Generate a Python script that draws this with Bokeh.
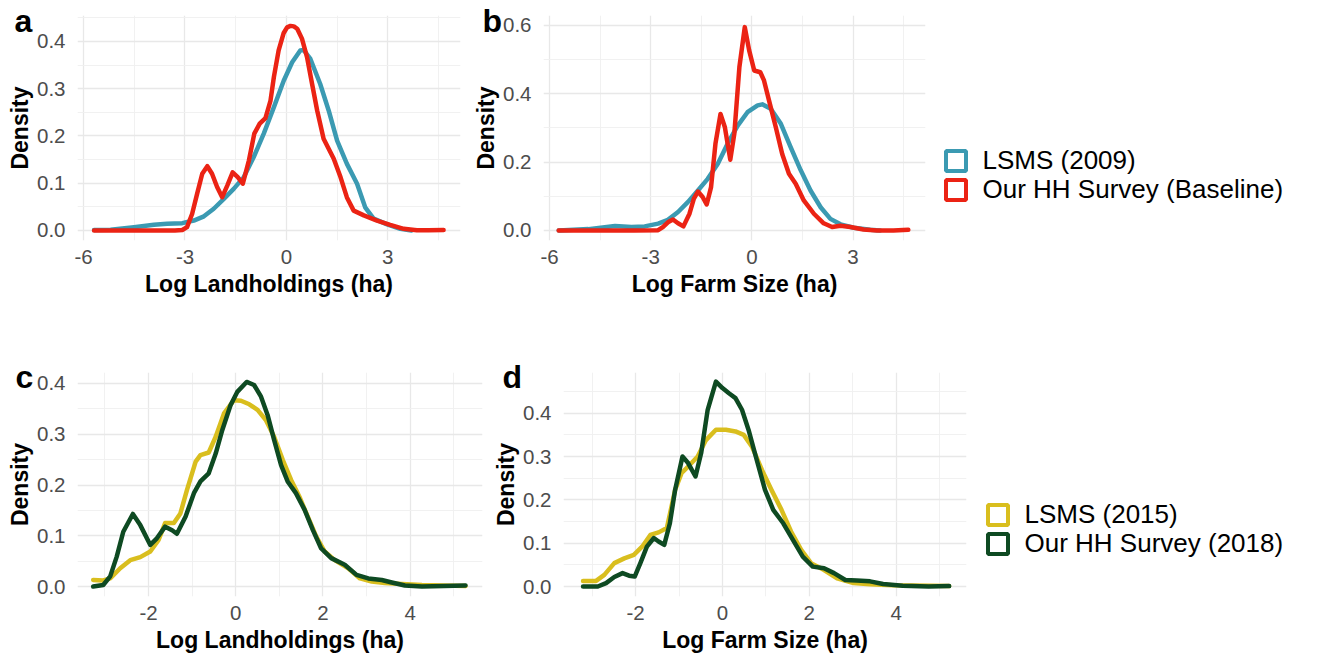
from bokeh.plotting import figure
from bokeh.models import Range1d, FixedTicker, PrintfTickFormatter, Label, Legend, LegendItem
from bokeh.layouts import row, column
from bokeh.embed import file_html
from bokeh.resources import INLINE

FONT = "Liberation Sans"
NAN = float("nan")

# ---------------- data ----------------
# Panel a: Log Landholdings, LSMS 2009 vs HH survey baseline
a_lsms_x = [-5.69, -5.2, -4.51, -3.92, -3.53, -3.08, -2.74, -2.44, -2.15, -1.85, -1.56, -1.26, -0.97,
            -0.67, -0.37, -0.08, 0.17, 0.41, 0.51, 0.71, 1.0, 1.25, 1.50, 1.79, 2.09, 2.33, 2.58,
            2.98, 3.37, 3.7]
a_lsms_y = [0.001, 0.0015, 0.007, 0.012, 0.014, 0.0155, 0.021, 0.03, 0.046, 0.067, 0.088, 0.113, 0.155,
            0.205, 0.261, 0.317, 0.356, 0.381, 0.382, 0.363, 0.31, 0.254, 0.19, 0.141, 0.099, 0.049,
            0.025, 0.013, 0.0035, 0.0]
a_hh_x = [-5.69, -5.0, -4.0, -3.3, -3.08, -2.94, -2.79, -2.64, -2.49, -2.34, -2.20, -2.05, -1.90, -1.75,
          -1.59, -1.44, -1.29, -1.11, -0.95, -0.79, -0.62, -0.47, -0.37, -0.23, -0.08, 0.02, 0.12, 0.22,
          0.32, 0.46, 0.61, 0.76, 0.91, 1.10, 1.40, 1.60, 1.79, 1.99, 2.29, 2.68, 3.07, 3.47, 3.86, 4.2,
          4.65]
a_hh_y = [0.0, 0.0, 0.0, 0.0, 0.001, 0.007, 0.035, 0.078, 0.12, 0.136, 0.12, 0.092, 0.0705, 0.095,
          0.123, 0.113, 0.099, 0.148, 0.205, 0.226, 0.238, 0.275, 0.325, 0.381, 0.418, 0.430, 0.433, 0.432,
          0.427, 0.406, 0.367, 0.31, 0.254, 0.194, 0.152, 0.113, 0.07, 0.042, 0.032, 0.021, 0.012, 0.0035,
          0.0005, 0.0005, 0.001]

# Panel b: Log Farm Size, LSMS 2009 vs HH survey baseline
b_lsms_x = [-5.73, -4.85, -4.06, -3.57, -3.18, -2.78, -2.49, -2.19, -1.90, -1.60, -1.31, -1.01, -0.72,
            -0.42, -0.13, 0.17, 0.31, 0.56, 0.86, 1.15, 1.45, 1.74, 2.04, 2.33, 2.63, 3.02, 3.51, 3.8]
b_lsms_y = [0.0, 0.004, 0.013, 0.01, 0.012, 0.02, 0.031, 0.054, 0.083, 0.117, 0.151, 0.195, 0.254,
            0.307, 0.346, 0.366, 0.369, 0.356, 0.312, 0.244, 0.176, 0.117, 0.068, 0.034, 0.018, 0.008,
            0.002, 0.0]
b_hh_x = [-5.73, -4.5, -3.5, -2.78, -2.64, -2.49, -2.34, -2.19, -2.03, -1.85, -1.72, -1.60, -1.46, -1.34,
          -1.21, -1.08, -0.93, -0.80, -0.64, -0.52, -0.37, -0.21, -0.08, 0.07, 0.25, 0.36, 0.51, 0.71,
          0.90, 1.10, 1.30, 1.54, 1.84, 2.13, 2.38, 2.63, 2.92, 3.31, 3.71, 4.2, 4.64]
b_hh_y = [0.0, 0.0, 0.0, 0.001, 0.01, 0.024, 0.032, 0.021, 0.012, 0.049, 0.093, 0.114, 0.098, 0.076,
          0.127, 0.254, 0.341, 0.302, 0.207, 0.283, 0.478, 0.595, 0.527, 0.468, 0.463, 0.439, 0.38, 0.302,
          0.224, 0.166, 0.137, 0.088, 0.049, 0.021, 0.01, 0.014, 0.01, 0.003, 0.0, 0.0, 0.002]

# Panel c: Log Landholdings, LSMS 2015 vs HH survey 2018
c_lsms_x = [-3.27, -3.04, -2.88, -2.65, -2.42, -2.19, -1.96, -1.77, -1.62, -1.42, -1.27, -1.12, -0.92,
            -0.81, -0.62, -0.46, -0.27, -0.04, 0.12, 0.31, 0.5, 0.69, 0.88, 1.08, 1.27, 1.46, 1.65, 1.85,
            2.04, 2.27, 2.58, 2.85, 3.12, 3.42, 3.81, 4.27, 5.27]
c_lsms_y = [0.013, 0.012, 0.016, 0.036, 0.052, 0.058, 0.069, 0.092, 0.125, 0.125, 0.144, 0.19, 0.246,
            0.259, 0.264, 0.295, 0.341, 0.367, 0.366, 0.359, 0.348, 0.328, 0.295, 0.249, 0.21, 0.177,
            0.138, 0.098, 0.069, 0.052, 0.036, 0.016, 0.01, 0.007, 0.005, 0.003, 0.001]
c_hh_x = [-3.27, -3.04, -2.88, -2.73, -2.58, -2.36, -2.19, -1.96, -1.81, -1.62, -1.46, -1.35, -1.15,
          -0.96, -0.81, -0.62, -0.46, -0.31, -0.12, 0.04, 0.25, 0.42, 0.58, 0.73, 0.88, 1.04, 1.19, 1.38,
          1.58, 1.77, 1.96, 2.19, 2.5, 2.77, 3.04, 3.35, 3.58, 3.88, 4.27, 5.27]
c_hh_y = [0.0, 0.003, 0.02, 0.059, 0.108, 0.143, 0.121, 0.082, 0.095, 0.118, 0.111, 0.104, 0.138,
          0.184, 0.207, 0.223, 0.262, 0.308, 0.357, 0.384, 0.403, 0.397, 0.374, 0.338, 0.289, 0.239,
          0.207, 0.184, 0.151, 0.111, 0.075, 0.056, 0.043, 0.023, 0.016, 0.013, 0.008, 0.002, 0.0, 0.002]

# Panel d: Log Farm Size, LSMS 2015 vs HH survey 2018
d_lsms_x = [-3.21, -2.91, -2.72, -2.49, -2.26, -2.04, -1.85, -1.66, -1.47, -1.28, -1.09, -0.94, -0.75,
            -0.57, -0.38, -0.15, 0.08, 0.30, 0.49, 0.68, 0.91, 1.13, 1.36, 1.58, 1.81, 2.04, 2.34, 2.64,
            3.02, 3.40, 3.92, 5.22]
d_lsms_y = [0.013, 0.013, 0.027, 0.054, 0.065, 0.073, 0.092, 0.119, 0.125, 0.135, 0.223, 0.262, 0.281,
            0.30, 0.338, 0.362, 0.362, 0.358, 0.35, 0.323, 0.269, 0.223, 0.177, 0.127, 0.085, 0.054,
            0.038, 0.019, 0.008, 0.005, 0.003, 0.001]
d_hh_x = [-3.21, -2.87, -2.68, -2.49, -2.30, -2.15, -2.02, -1.89, -1.74, -1.58, -1.47, -1.34, -1.21,
          -1.09, -0.92, -0.79, -0.62, -0.49, -0.34, -0.15, 0.0, 0.15, 0.30, 0.45, 0.60, 0.79, 0.98, 1.17,
          1.40, 1.62, 1.85, 2.08, 2.34, 2.57, 2.83, 3.09, 3.40, 3.70, 4.15, 4.75, 5.22]
d_hh_y = [0.0, 0.0, 0.008, 0.022, 0.031, 0.025, 0.023, 0.054, 0.092, 0.112, 0.104, 0.096, 0.146,
          0.223, 0.30, 0.285, 0.254, 0.308, 0.408, 0.473, 0.458, 0.446, 0.435, 0.408, 0.362, 0.292,
          0.223, 0.177, 0.146, 0.108, 0.069, 0.046, 0.042, 0.031, 0.015, 0.014, 0.012, 0.006, 0.002,
          0.0, 0.001]

top_labels = ["LSMS (2009)", "Our HH Survey (Baseline)"]
bottom_labels = ["LSMS (2015)", "Our HH Survey (2018)"]
top_colors = ["#3B9AB2", "#EB2314"]
bottom_colors = ["#D9BE1E", "#0E4A22"]
panel_letters = ["a", "b", "c", "d"]

x_ticks_top = [-6, -3, 0, 3]
x_minor_top = [-4.5, -1.5, 1.5, 4.5]
x_ticks_bot = [-2, 0, 2, 4]
x_minor_bot = [-3, -1, 1, 3, 5]
y_ticks_01 = [0.0, 0.1, 0.2, 0.3, 0.4]
y_minor_01 = [0.05, 0.15, 0.25, 0.35, 0.45]
y_ticks_02 = [0.0, 0.2, 0.4, 0.6]
y_minor_02 = [0.1, 0.3, 0.5]

W, H = 1320, 655


def panel(width, height, bl, br, bt, bb, xr, yr, xt, xm, yt, ym, xlabel):
    p = figure(width=width, height=height, x_range=Range1d(*xr), y_range=Range1d(*yr),
               output_backend="svg", toolbar_location=None,
               min_border_left=bl, min_border_right=br, min_border_top=bt, min_border_bottom=bb)
    p.outline_line_color = None
    p.background_fill_color = "white"
    p.border_fill_color = "white"
    p.xaxis.ticker = FixedTicker(ticks=xt, minor_ticks=xm)
    p.yaxis.ticker = FixedTicker(ticks=yt, minor_ticks=ym)
    p.xaxis.formatter = PrintfTickFormatter(format="%d")
    p.yaxis.formatter = PrintfTickFormatter(format="%.1f")
    for ax in (p.xaxis[0], p.yaxis[0]):
        ax.axis_line_color = None
        ax.major_tick_line_color = None
        ax.minor_tick_line_color = None
        ax.major_label_text_font = FONT
        ax.major_label_text_font_size = "20.5px"
        ax.major_label_text_color = "#4d4d4d"
        ax.axis_label_text_font = FONT
        ax.axis_label_text_font_size = "23px"
        ax.axis_label_text_font_style = "bold"
        ax.axis_label_text_color = "black"
    p.xaxis.axis_label = xlabel
    p.yaxis.axis_label = "Density"
    p.xaxis.major_label_standoff = 3
    p.yaxis.major_label_standoff = 6
    p.xaxis.axis_label_standoff = 4
    p.yaxis.axis_label_standoff = 1
    for g in (p.xgrid[0], p.ygrid[0]):
        g.grid_line_color = "#e8e8e8"
        g.grid_line_width = 1.3
        g.minor_grid_line_color = "#efefef"
        g.minor_grid_line_width = 0.9
    return p


def add_curves(p, xs1, ys1, xs2, ys2, colors):
    p.line(xs1, ys1, line_color=colors[0], line_width=4.5, line_join="round", line_cap="round")
    p.line(xs2, ys2, line_color=colors[1], line_width=4.5, line_join="round", line_cap="round")


def legend_fig(width, height, bt, bb, labels, colors, locs):
    lp = figure(width=width, height=height, x_range=Range1d(0, 1), y_range=Range1d(0, 1),
                x_axis_type=None, y_axis_type=None, output_backend="svg", toolbar_location=None,
                min_border_left=0, min_border_right=0, min_border_bottom=bb, min_border_top=bt)
    lp.outline_line_color = None
    lp.grid.visible = False
    for lab, col, loc in zip(labels, colors, locs):
        r = lp.quad(left=[NAN], right=[NAN], top=[NAN], bottom=[NAN], fill_color="white",
                    line_color=col, line_width=4)
        leg = Legend(items=[LegendItem(label=lab, renderers=[r])], location=loc,
                     orientation="vertical", glyph_width=25, glyph_height=25, label_standoff=15,
                     label_text_font=FONT, label_text_font_size="26px", label_text_color="black",
                     label_height=34, spacing=0, padding=0, margin=0,
                     border_line_color=None, background_fill_alpha=0)
        lp.add_layout(leg)
    return lp


pa = panel(470, 340, 77, 10, 15, 100, (-6.18, 5.15), (-0.0212, 0.455),
           x_ticks_top, x_minor_top, y_ticks_01, y_minor_01, "Log Landholdings (ha)")
add_curves(pa, a_lsms_x, a_lsms_y, a_hh_x, a_hh_y, top_colors)

pb = panel(460, 340, 72, 5, 15, 100, (-6.18, 5.15), (-0.0293, 0.629),
           x_ticks_top, x_minor_top, y_ticks_02, y_minor_02, "Log Farm Size (ha)")
add_curves(pb, b_lsms_x, b_lsms_y, b_hh_x, b_hh_y, top_colors)

la = legend_fig(390, 340, 15, 100, top_labels, top_colors, [(12.5, 62.5), (12.5, 33.5)])

pc = panel(490, 315, 77, 8, 32, 58, (-3.63, 5.66), (-0.0196, 0.4216),
           x_ticks_bot, x_minor_bot, y_ticks_01, y_minor_01, "Log Landholdings (ha)")
add_curves(pc, c_lsms_x, c_lsms_y, c_hh_x, c_hh_y, bottom_colors)

pd = panel(480, 315, 70, 4, 32, 58, (-3.66, 5.62), (-0.023, 0.494),
           x_ticks_bot, x_minor_bot, y_ticks_01, y_minor_01, "Log Farm Size (ha)")
add_curves(pd, d_lsms_x, d_lsms_y, d_hh_x, d_hh_y, bottom_colors)

lc = legend_fig(350, 315, 32, 58, bottom_labels, bottom_colors, [(14.5, 64.5), (14.5, 35.5)])

# transparent overlay carrying the panel letters
ov = figure(width=W, height=H, x_range=Range1d(0, W), y_range=Range1d(H, 0),
            x_axis_type=None, y_axis_type=None, output_backend="svg", toolbar_location=None,
            min_border=0)
ov.outline_line_color = None
ov.background_fill_alpha = 0
ov.border_fill_alpha = 0
ov.grid.visible = False
letter_pos = [(14, 20), (482, 20), (15, 376), (502, 376)]
for t, (lx, ly) in zip(panel_letters, letter_pos):
    ov.add_layout(Label(x=lx, y=ly, text=t, text_font=FONT, text_font_size="32px",
                        text_font_style="bold", text_color="black", text_baseline="alphabetic"))
ov.margin = (-H, 0, 0, 0)

layout = column(row(pa, pb, la, spacing=0), row(pc, pd, lc, spacing=0), ov, spacing=0)

open("out.html", "w").write(file_html(layout, INLINE))
